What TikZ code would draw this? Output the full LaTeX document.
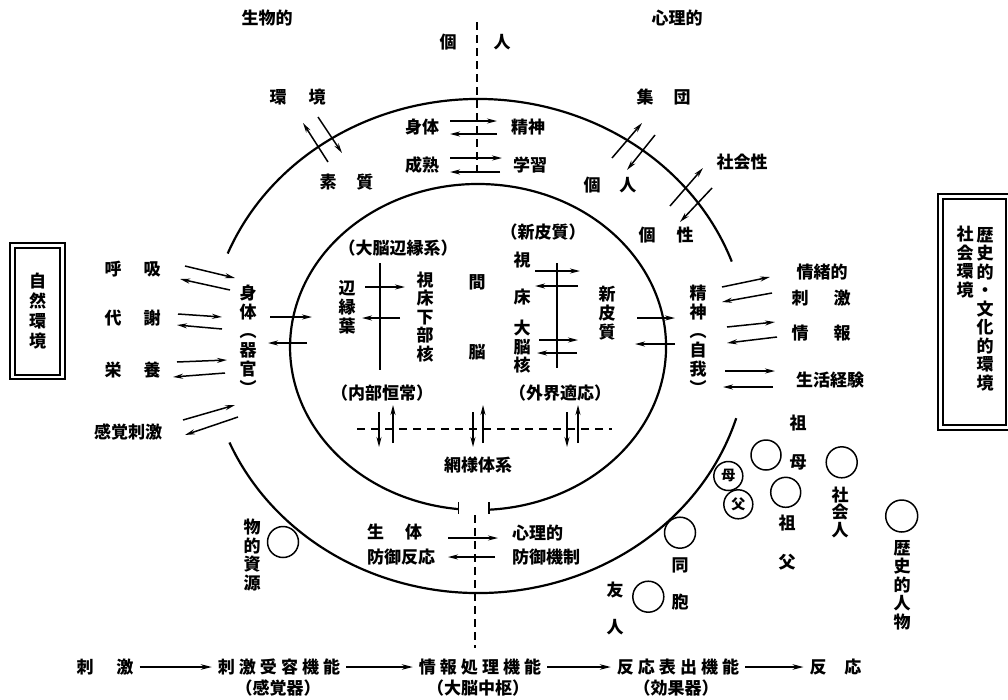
\documentclass[tikz,border=0pt]{standalone}
\usepackage{fontspec}
\setmainfont{Noto Sans CJK JP}
\newfontfamily\jpwide{Noto Sans CJK JP}[LetterSpace=24]
\usetikzlibrary{arrows.meta}
\tikzset{
  lbl/.style={inner sep=0pt, font=\fontsize{17}{19}\selectfont\bfseries},
  vlbl/.style={lbl, align=center},
  ttl/.style={inner sep=0pt, font=\fontsize{17}{19}\selectfont\bfseries},
  arr/.style={line width=1.5pt, -{Stealth[length=10pt,width=5pt]}},
  ring/.style={line width=2.2pt},
  pline/.style={line width=1.7pt},
  dashln/.style={line width=1.5pt, dash pattern=on 8pt off 5pt},
  pcirc/.style={circle, draw, line width=1.5pt, minimum size=31pt, inner sep=0pt},
  pcircsm/.style={circle, draw, line width=1.5pt, minimum size=29pt, inner sep=0pt, font=\fontsize{14}{14}\selectfont\bfseries},
  flow/.style={inner sep=0pt, outer sep=6pt, font=\jpwide\fontsize{17}{20}\selectfont\bfseries},
  flowlbl/.style={inner sep=0pt, outer sep=6pt, font=\fontsize{17}{20}\selectfont\bfseries},
  sub/.style={inner sep=0pt, font=\fontsize{17}{20}\selectfont\bfseries},
  flowarr/.style={line width=1.5pt, -{Stealth[length=11pt,width=5.5pt]}},
  outbox/.style={line width=2.2pt},
  inbox/.style={line width=1.2pt},
}
\begin{document}
\begin{tikzpicture}[x=1pt,y=-1pt]
\useasboundingbox (0,0) rectangle (1008,699);
\clip (0,0) rectangle (1008,699);

% ---- outer ring (broken at left and right) ----
\draw[ring] (227.7,253.5) arc[start angle=202, end angle=340, x radius=270, y radius=247];
\draw[ring] (736.2,418.2) arc[start angle=17, end angle=157, x radius=270, y radius=247];

% ---- inner ellipse (open at bottom) ----
\draw[ring] (458.4,509.1) arc[start angle=96, end angle=446.6, x radius=188, y radius=163];
\draw[pline] (458.6,502) -- (458.6,514);
\draw[pline] (489.1,502) -- (489.1,514);

% ---- vertical dashed axis ----
\draw[dashln] (477,22) -- (477,172);
\draw[dashln] (475,515) -- (475,648);

% ---- titles ----
\node[ttl] (bio) at (267,18) {生物的};
\node[ttl] (psy) at (677,18) {心理的};
\node[lbl] (kojin) at (475,42) {個\hspace{37pt}人};

% ---- top ----
\node[lbl] (kankyo) at (297.5,97) {環\hspace{22pt}境};
\node[lbl] (soshitsu) at (346.5,182) {素\hspace{20pt}質};
\draw[arr] (328,162) -- (303,123);
\draw[arr] (318,117) -- (342,153);

\node[lbl] (shintaiT) at (422,127) {身体};
\node[lbl] (seishinT) at (528,127) {精神};
\node[lbl] (seijuku) at (422,165) {成熟};
\node[lbl] (gakushu) at (530,165) {学習};
\draw[arr] (450,121) -- (497,121);
\draw[arr] (497,134) -- (450,134);
\draw[arr] (450,158) -- (502,158);
\draw[arr] (500,172) -- (450,172);

\node[lbl] (shudan) at (663.5,97) {集\hspace{20pt}団};
\node[lbl] (kojin2) at (610,185) {個\hspace{19pt}人};
\draw[arr] (612,158) -- (642,123);
\draw[arr] (655,135) -- (627,170);

\node[lbl] (shakaisei) at (742,162) {社会性};
\node[lbl] (kosei) at (666,235) {個\hspace{21pt}性};
\draw[arr] (670,206) -- (703,168);
\draw[arr] (712,188) -- (680,222);

% ---- left side ----
\draw[outbox] (10,243) rectangle (65,379);
\draw[inbox] (15,248) rectangle (60,375);
\node[vlbl, font=\fontsize{17}{20}\selectfont\bfseries] (shizen) at (37.5,311) {自\\然\\環\\境};

\node[lbl] (kokyu) at (132.5,269) {呼\hspace{22pt}吸};
\node[lbl] (taisha) at (132.5,318) {代\hspace{22pt}謝};
\node[lbl] (eiyo) at (132.5,370) {栄\hspace{22pt}養};
\node[lbl] (kankaku) at (128,432) {感覚刺激};
\draw[arr] (185,266) -- (235,278);
\draw[arr] (230,290) -- (180,279);
\draw[arr] (178,314) -- (222,317);
\draw[arr] (222,329) -- (177,325);
\draw[arr] (177,362) -- (227,360);
\draw[arr] (225,373) -- (173,377);
\draw[arr] (183,420) -- (235,405);
\draw[arr] (238,417) -- (185,435);

\node[vlbl] (shintai) at (248,340) {身\\体\\︵\\器\\官\\︶};
\draw[arr] (270,317) -- (312,317);
\draw[arr] (307,343) -- (268,343);

% ---- right side ----
\node[vlbl] (seishin) at (698,340) {精\\神\\︵\\自\\我\\︶};
\draw[arr] (637,318) -- (675,318);
\draw[arr] (675,344) -- (635,344);

\node[lbl] (jocho) at (822,272) {情緒的};
\node[lbl] (shigeki) at (821,298) {刺\hspace{25pt}激};
\node[lbl] (joho) at (821,333) {情\hspace{25pt}報};
\node[lbl] (seikatsu) at (830,380) {生活経験};
\draw[arr] (722,287) -- (770,277);
\draw[arr] (772,293) -- (722,302);
\draw[arr] (727,327) -- (775,322);
\draw[arr] (777,337) -- (727,343);
\draw[arr] (725,371) -- (775,371);
\draw[arr] (773,387) -- (723,387);

\draw[outbox] (938,194) rectangle (1012,430);
\draw[inbox] (943,199) rectangle (1006,425);
\node[vlbl, font=\fontsize{17}{18.5}\selectfont\bfseries] (shakaikankyo) at (965,262) {社\\会\\環\\境};
\node[vlbl, font=\fontsize{17}{18.5}\selectfont\bfseries] (rekishi) at (985,309) {歴\\史\\的\\・\\文\\化\\的\\環\\境};

% ---- inside inner ellipse ----
\node[lbl] (limbic) at (398,248) {（大脳辺縁系）};
\node[lbl] (neocortex) at (543,232) {（新皮質）};
\node[vlbl] (henenyo) at (347,307) {辺\\縁\\葉};
\node[vlbl, font=\fontsize{17}{18.5}\selectfont\bfseries] (shishoka) at (425,317) {視\\床\\下\\部\\核};
\draw[pline] (380,263) -- (380,370);
\draw[arr] (365,287) -- (405,287);
\draw[arr] (400,318) -- (362,318);

\node[vlbl] (kanno) at (477,317) {間\\[51pt]脳};
\node[vlbl] (shisho) at (522,278.5) {視\\[18pt]床};
\node[vlbl, font=\fontsize{17}{18.5}\selectfont\bfseries] (dainokaku) at (522,347) {大\\脳\\核};
\node[vlbl] (shinhishitsu) at (607,313) {新\\皮\\質};
\draw[pline] (557,263) -- (557,368);
\draw[arr] (535,271) -- (580,271);
\draw[arr] (578,286) -- (535,286);
\draw[arr] (539,340) -- (578,340);
\draw[arr] (577,353) -- (537,353);

\node[lbl] (naibu) at (382,393) {（内部恒常）};
\node[lbl] (gaikai) at (560,393) {（外界適応）};
\draw[line width=1.5pt, dash pattern=on 8pt off 6pt] (357,429) -- (612,429);
\draw[arr] (379,412) -- (379,447);
\draw[arr] (393,443) -- (393,405);
\draw[arr] (473,412) -- (473,447);
\draw[arr] (483,443) -- (483,405);
\draw[arr] (567,412) -- (567,447);
\draw[arr] (578,443) -- (578,405);
\node[lbl] (moyo) at (478,465) {網様体系};

% ---- between rings, bottom ----
\node[lbl, anchor=west] (seitai) at (367,532) {生\hspace{21pt}体};
\node[lbl, anchor=west] (bogyohanno) at (367,557) {防御反応};
\node[lbl, anchor=west] (shinriteki) at (512,533) {心理的};
\node[lbl, anchor=west] (bogyokisei) at (512,557) {防御機制};
\draw[arr] (448,538) -- (498,538);
\draw[arr] (495,557) -- (448,557);

% ---- resources and persons ----
\node[pcirc] (cres) at (283,542) {};
\node[vlbl, font=\fontsize{17}{18.7}\selectfont\bfseries] (butsuteki) at (252,555) {物\\的\\資\\源};

\node[pcirc, minimum size=30pt] (cgm) at (766,455) {};
\node[vlbl] (sobo) at (798,442.5) {祖\\[20pt]母};
\node[pcircsm] (cmo) at (728.3,476) {母};
\node[pcircsm] (cfa) at (738.3,504.3) {父};
\node[pcirc, minimum size=30pt] (cgf) at (785.7,492.3) {};
\node[vlbl] (sofu) at (787,542.5) {祖\\[20pt]父};
\node[pcirc] (csoc) at (841.7,462.3) {};
\node[vlbl, font=\fontsize{17}{17.5}\selectfont\bfseries] (shakaijin) at (840,512) {社\\会\\人};
\node[pcirc, minimum size=32pt] (chist) at (901.7,516) {};
\node[vlbl, font=\fontsize{17}{18.5}\selectfont\bfseries] (rekishijin) at (902,585) {歴\\史\\的\\人\\物};
\node[pcirc] (csib) at (680,532.7) {};
\node[vlbl] (dohou) at (680,583.5) {同\\[18pt]胞};
\node[pcirc] (cfr) at (648.3,596.7) {};
\node[vlbl] (yujin) at (615,608.5) {友\\[18pt]人};

% ---- bottom flow ----
\node[flowlbl] (stim) at (105,667) {刺\hspace{23pt}激};
\node[flow] (recv) at (279,667) {刺激受容機能};
\node[flow] (proc) at (480,667) {情報処理機能};
\node[flow] (emit) at (678,667) {反応表出機能};
\node[flowlbl] (resp) at (835.5,667) {反\hspace{18pt}応};
\node[sub] (recvs) at (278,688) {（感覚器）};
\node[sub] (procs) at (478,688) {（大脳中枢）};
\node[sub] (emits) at (676,688) {（効果器）};
\draw[flowarr] (stim) -- (recv);
\draw[flowarr] (recv) -- (proc);
\draw[flowarr] (proc) -- (emit);
\draw[flowarr] (emit) -- (resp);
\end{tikzpicture}
\end{document}
